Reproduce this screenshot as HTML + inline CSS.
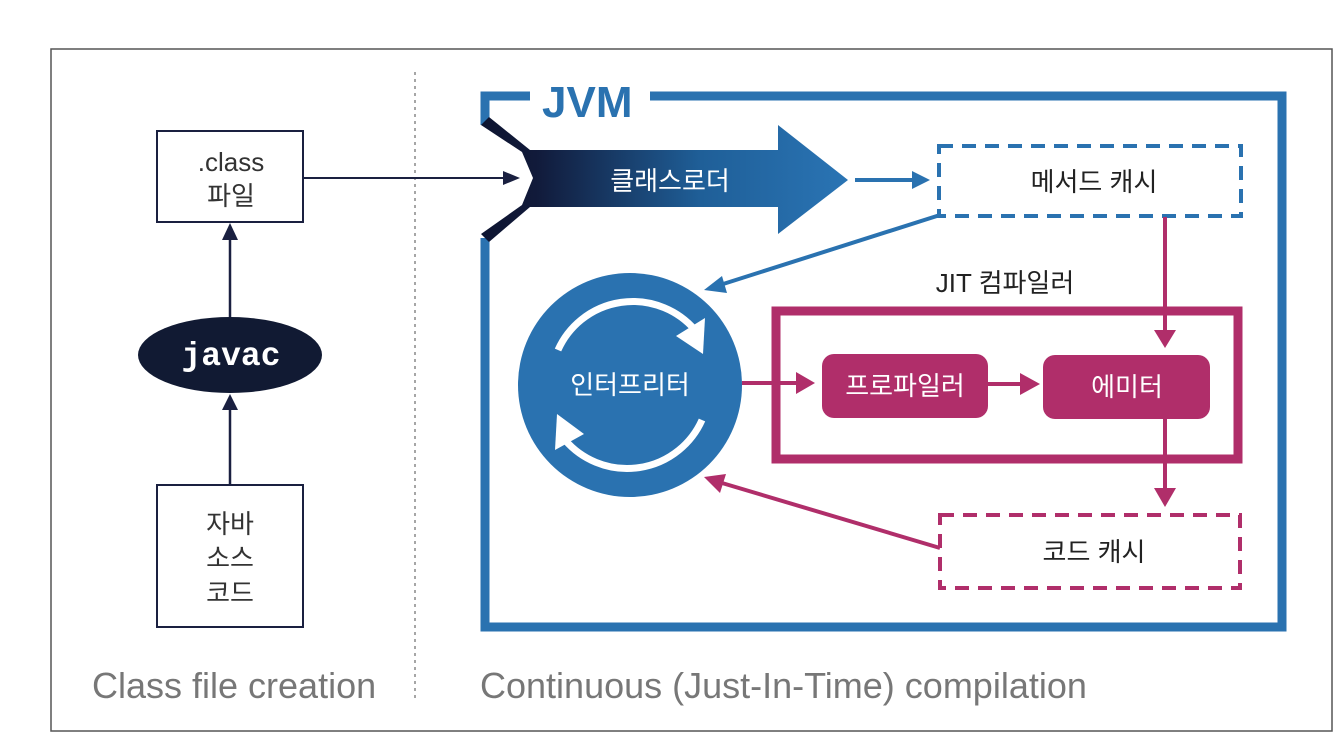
<!DOCTYPE html>
<html><head><meta charset="utf-8"><style>
html,body{margin:0;padding:0;background:#fff;width:1340px;height:750px;overflow:hidden}
svg text{font-family:"Liberation Sans","Noto Sans CJK KR",sans-serif}
</style></head><body>
<svg width="1340" height="750" viewBox="0 0 1340 750" xmlns="http://www.w3.org/2000/svg">
<defs>
<linearGradient id="g" x1="0" x2="1" y1="0" y2="0">
<stop offset="0" stop-color="#0d1430"/><stop offset="0.15" stop-color="#111a3a"/><stop offset="0.6" stop-color="#1f5f98"/><stop offset="1" stop-color="#2a74b4"/>
</linearGradient>
</defs>
<rect x="51" y="49" width="1281" height="682" fill="#fff" stroke="#555" stroke-width="1.5"/>
<line x1="415" y1="72" x2="415" y2="700" stroke="#888" stroke-width="1.5" stroke-dasharray="3,4"/>

<!-- left side -->
<rect x="157" y="131" width="146" height="91" fill="#fff" stroke="#1a2040" stroke-width="2"/>
<text x="231" y="171" font-size="26" text-anchor="middle" fill="#333">.class</text>
<text x="231" y="205" font-size="26" text-anchor="middle" fill="#333">파일</text>
<ellipse cx="230" cy="355" rx="92" ry="38" fill="#111a33"/>
<text x="231" y="365" font-size="33" font-weight="bold" text-anchor="middle" fill="#fff" style="font-family:'Liberation Mono',monospace">javac</text>
<line x1="230" y1="317" x2="230" y2="238" stroke="#1a2040" stroke-width="2.5"/>
<polygon points="222,240 238,240 230,223" fill="#1a2040"/>
<line x1="230" y1="485" x2="230" y2="408" stroke="#1a2040" stroke-width="2.5"/>
<polygon points="222,410 238,410 230,394" fill="#1a2040"/>
<rect x="157" y="485" width="146" height="142" fill="#fff" stroke="#1a2040" stroke-width="2"/>
<text x="230" y="533" font-size="26" text-anchor="middle" fill="#333">자바</text>
<text x="230" y="567" font-size="26" text-anchor="middle" fill="#333">소스</text>
<text x="230" y="602" font-size="26" text-anchor="middle" fill="#333">코드</text>
<text x="92" y="698" font-size="36" fill="#777">Class file creation</text>
<text x="480" y="698" font-size="36" fill="#777">Continuous (Just-In-Time) compilation</text>

<!-- class to loader -->
<line x1="303" y1="178" x2="505" y2="178" stroke="#1a2040" stroke-width="2"/>
<polygon points="503,171 520,178 503,185" fill="#1a2040"/>

<!-- JVM frame -->
<path d="M530,96 L485,96 L485,125 M485,238 L485,627 L1282,627 L1282,96 L650,96" fill="none" stroke="#2a72b0" stroke-width="9"/>
<text x="542" y="117" font-size="44" font-weight="bold" fill="#2a72b0">JVM</text>
<!-- class loader arrow -->
<polygon points="530,150 778,150 778,125 848,180 778,234 778,207 530,207 489,242 481,234 522,205 533,178 522,152 481,125 489,117" fill="url(#g)"/>
<text x="670" y="190" font-size="26" text-anchor="middle" fill="#fff">클래스로더</text>
<line x1="855" y1="180" x2="915" y2="180" stroke="#2a72b0" stroke-width="4"/>
<polygon points="912,171 930,180 912,189" fill="#2a72b0"/>
<rect x="939" y="146" width="302" height="70" fill="#fff" stroke="#2a72b0" stroke-width="4" stroke-dasharray="14,9"/>
<text x="1094" y="191" font-size="26" text-anchor="middle" fill="#222">메서드 캐시</text>
<line x1="940" y1="215" x2="720" y2="285" stroke="#2a72b0" stroke-width="4"/>
<polygon points="704,290 722,276 727,293" fill="#2a72b0"/>

<!-- interpreter -->
<circle cx="630" cy="385" r="112" fill="#2a72b0"/>
<path d="M558,350 A82,82 0 0 1 695,330" fill="none" stroke="#fff" stroke-width="7"/>
<polygon points="676,336 705,318 703,354" fill="#fff"/>
<path d="M702,420 A82,82 0 0 1 565,440" fill="none" stroke="#fff" stroke-width="7"/>
<polygon points="584,434 555,450 557,414" fill="#fff"/>
<text x="630" y="394" font-size="26" text-anchor="middle" fill="#fff">인터프리터</text>

<!-- JIT -->
<text x="1005" y="292" font-size="26" text-anchor="middle" fill="#222">JIT 컴파일러</text>
<rect x="776" y="311" width="462" height="148" fill="none" stroke="#b02e6a" stroke-width="9"/>
<line x1="1165" y1="217" x2="1165" y2="335" stroke="#b02e6a" stroke-width="4"/>
<polygon points="1154,330 1176,330 1165,348" fill="#b02e6a"/>
<line x1="742" y1="383" x2="800" y2="383" stroke="#b02e6a" stroke-width="4"/>
<polygon points="796,372 815,383 796,394" fill="#b02e6a"/>
<rect x="822" y="354" width="166" height="64" rx="12" fill="#b02e6a"/>
<text x="905" y="395" font-size="26" text-anchor="middle" fill="#fff">프로파일러</text>
<line x1="988" y1="384" x2="1025" y2="384" stroke="#b02e6a" stroke-width="4"/>
<polygon points="1020,373 1040,384 1020,395" fill="#b02e6a"/>
<rect x="1043" y="355" width="167" height="64" rx="12" fill="#b02e6a"/>
<text x="1127" y="396" font-size="26" text-anchor="middle" fill="#fff">에미터</text>
<line x1="1165" y1="419" x2="1165" y2="495" stroke="#b02e6a" stroke-width="4"/>
<polygon points="1154,488 1176,488 1165,507" fill="#b02e6a"/>
<rect x="940" y="515" width="300" height="73" fill="#fff" stroke="#b02e6a" stroke-width="4" stroke-dasharray="14,9"/>
<text x="1094" y="561" font-size="26" text-anchor="middle" fill="#222">코드 캐시</text>
<line x1="940" y1="548" x2="722" y2="483" stroke="#b02e6a" stroke-width="4"/>
<polygon points="704,477 726,474 720,493" fill="#b02e6a"/>
</svg>
</body></html>
